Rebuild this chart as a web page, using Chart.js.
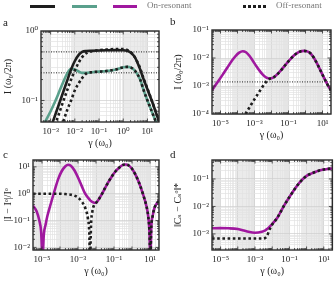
<!DOCTYPE html>
<html><head><meta charset="utf-8">
<script src="https://cdn.jsdelivr.net/npm/chart.js@4"></script>
<style>
html,body{margin:0;padding:0;background:#fff;}
#wrap{position:relative;width:336px;height:281px;overflow:hidden;font-family:"Liberation Serif","DejaVu Serif",serif;}
canvas{position:absolute;left:0;top:0;}
.pl{position:absolute;font-size:11px;color:#222;line-height:1;}
.sw{position:absolute;height:3px;top:5px;}
.lt{position:absolute;font-size:9px;color:#777;top:1px;line-height:1;}
</style></head><body>
<div id="wrap">
<canvas id="ca" width="336" height="281"></canvas>
<canvas id="cb" width="336" height="281"></canvas>
<canvas id="cc" width="336" height="281"></canvas>
<canvas id="cd" width="336" height="281"></canvas>
<div class="sw" style="left:30px;width:25px;background:#1e1e1e"></div>
<div class="sw" style="left:72px;width:25px;background:#5aa08c"></div>
<div class="sw" style="left:113px;width:24px;background:#a0189f"></div>
<div class="lt" style="left:147px">On-resonant</div>
<div class="sw" style="left:243px;width:23px;background:repeating-linear-gradient(90deg,#1e1e1e 0 3px,transparent 3px 5px)"></div>
<div class="lt" style="left:276px">Off-resonant</div>
<div class="pl" style="left:3px;top:17px">a</div>
<div class="pl" style="left:170px;top:16px">b</div>
<div class="pl" style="left:3px;top:149px">c</div>
<div class="pl" style="left:170px;top:149px">d</div>
</div>
<script>
// ---------- data ----------
const aGamma = [4e-4,6e-4,1e-3,1.5e-3,2e-3,3e-3,5e-3,7e-3,1e-2,1.5e-2,2e-2,3e-2,5e-2,0.1,0.2,0.5,1,1.5,2,3,5,7,10,15,30];
const aBlackOn  = [0.016,0.024,0.04,0.06,0.08,0.12,0.2,0.28,0.37,0.46,0.5,0.515,0.52,0.525,0.528,0.53,0.528,0.515,0.49,0.42,0.28,0.2,0.145,0.1,0.05];
const aGreenOn  = [0.038,0.05,0.07,0.095,0.12,0.17,0.25,0.285,0.28,0.26,0.25,0.25,0.255,0.26,0.265,0.28,0.3,0.305,0.3,0.27,0.2,0.14,0.1,0.07,0.038];
const aBlackOff = [0.012,0.018,0.03,0.044,0.058,0.088,0.145,0.2,0.27,0.36,0.42,0.48,0.51,0.53,0.54,0.55,0.55,0.53,0.5,0.42,0.29,0.205,0.148,0.1,0.05];
const aGreenOff = [0.006,0.009,0.015,0.022,0.03,0.045,0.075,0.1,0.14,0.18,0.21,0.245,0.255,0.26,0.265,0.28,0.3,0.305,0.3,0.27,0.2,0.14,0.1,0.07,0.038];
const aRefLevels = [0.5, 0.25];

const bGamma = [3.16e-6,6.3e-6,1.26e-5,2.5e-5,5e-5,7.9e-5,1.26e-4,2e-4,3.16e-4,5e-4,7.9e-4,1.26e-3,2e-3,3.16e-3,5e-3,7.9e-3,1.26e-2,2e-2,3.16e-2,5e-2,7.9e-2,0.126,0.2,0.316,0.5,0.79,1.26,2,3.16,5,7.9,12.6,20,31.6];
const bOn  = [7e-4,1.3e-3,2.4e-3,4.5e-3,8.5e-3,1.2e-2,1.55e-2,1.75e-2,1.6e-2,1.2e-2,8e-3,5.2e-3,3.5e-3,2.5e-3,2e-3,1.85e-3,2e-3,2.5e-3,3.3e-3,4.6e-3,6.5e-3,9e-3,1.2e-2,1.5e-2,1.72e-2,1.8e-2,1.72e-2,1.45e-2,1e-2,6e-3,3.4e-3,1.9e-3,1.1e-3,7e-4];
const bOff = [null,null,null,null,null,null,null,7e-5,1.1e-4,1.7e-4,2.7e-4,4.2e-4,6.5e-4,1e-3,1.45e-3,1.8e-3,2e-3,2.5e-3,3.3e-3,4.6e-3,6.5e-3,9e-3,1.2e-2,1.5e-2,1.72e-2,1.8e-2,1.72e-2,1.45e-2,1e-2,6e-3,3.4e-3,1.9e-3,1.1e-3,7e-4];
const bRefLevels = [1.4e-3];

const cGamma = [3.16e-6,5e-6,7.1e-6,8.9e-6,1.07e-5,1.26e-5,1.58e-5,2e-5,3.16e-5,5e-5,7.9e-5,1.26e-4,2e-4,2.8e-4,4e-4,6.3e-4,1e-3,1.58e-3,2.5e-3,3.55e-3,4.2e-3,4.7e-3,5.25e-3,6.3e-3,7.9e-3,1e-2,1.26e-2,2e-2,3.16e-2,5e-2,7.9e-2,0.126,0.2,0.316,0.447,0.63,1,1.58,2.5,4,6.3,7.9,9.3,10.5,11.7,14.1,17.8,25,31.6];
const cOn  = [0.36,0.22,0.1,0.04,0.004,0.03,0.07,0.15,0.45,1.3,3.5,7,10.5,12,11,7.5,4,2,1.0,0.72,0.63,0.57,0.53,0.49,0.46,0.46,0.55,0.9,1.6,2.8,4.6,7,9.5,11.8,12.3,11.5,8.5,5,2.5,1.0,0.35,0.15,0.04,0.003,0.05,0.15,0.3,0.45,0.55];
const cOff = [1,1,1,1,1,1,1,1,1,1,1,0.99,0.97,0.95,0.92,0.85,0.72,0.52,0.3,0.12,0.04,0.003,0.06,0.22,0.38,0.46,0.55,0.9,1.6,2.8,4.6,7,9.5,11.8,12.3,11.5,8.5,5,2.5,1.0,0.35,0.15,0.04,0.003,0.05,0.15,0.3,0.45,0.55];

const dGamma = [3.16e-6,1e-5,3.16e-5,1e-4,3.16e-4,1e-3,2.5e-3,4e-3,5e-3,6.3e-3,7.9e-3,1e-2,2e-2,3.16e-2,5e-2,0.1,0.2,0.4,1,2,3.16,5,10,15.8,31.6];
const dOn  = [1.6e-3,1.62e-3,1.6e-3,1.5e-3,1.25e-3,1.1e-3,1.2e-3,1.35e-3,1.5e-3,1.7e-3,1.95e-3,2.3e-3,3.9e-3,6.5e-3,1.1e-2,2.2e-2,4.2e-2,7.5e-2,0.13,0.16,0.18,0.2,0.22,0.232,0.24];
const dOff = [6.8e-4,6.8e-4,6.8e-4,6.8e-4,6.8e-4,6.8e-4,6.8e-4,7.2e-4,8.5e-4,1.2e-3,1.7e-3,2.2e-3,3.9e-3,6.5e-3,1.1e-2,2.2e-2,4.2e-2,7.5e-2,0.13,0.16,0.18,0.2,0.22,0.232,0.24];

// ---------- style ----------
const FONT = '"Liberation Serif","DejaVu Serif",serif';
const BLACK = '#1e1e1e', GREEN = '#5aa08c', MAGENTA = '#a0189f';
const SUP = {'-':'⁻','0':'⁰','1':'¹','2':'²','3':'³','4':'⁴','5':'⁵','6':'⁶','7':'⁷','8':'⁸','9':'⁹'};
const exp10 = v => Math.round(Math.log10(v));
const isDecade = v => Math.abs(Math.log10(v) - exp10(v)) < 1e-6;
const lbl = v => '10' + String(exp10(v)).split('').map(c => SUP[c]).join('');
const keepIntMantissa = s => {
  s.ticks = s.ticks.filter(t => {
    const m = t.value / Math.pow(10, Math.floor(Math.log10(t.value) + 1e-9));
    return Math.abs(m - Math.round(m)) < 1e-6;
  });
};
const pts = (xs, ys) => xs.map((x, i) => ({x, y: ys[i]})).filter(p => p.y !== null);

const deco = {
  id: 'deco',
  beforeDraw(chart) {
    const {ctx, chartArea: a, scales: {x}} = chart;
    ctx.save();
    ctx.fillStyle = '#fff';
    ctx.fillRect(a.left, a.top, a.width, a.height);
    ctx.fillStyle = '#ebebeb';
    const k0 = Math.floor(Math.log10(x.min)), k1 = Math.ceil(Math.log10(x.max));
    for (let k = k0; k < k1; k++) {
      if (((k % 2) + 2) % 2 !== 0) continue;
      const p0 = Math.max(a.left, x.getPixelForValue(Math.pow(10, k)));
      const p1 = Math.min(a.right, x.getPixelForValue(Math.pow(10, k + 1)));
      if (p1 > p0) ctx.fillRect(p0, a.top, p1 - p0, a.height);
    }
    ctx.restore();
  },
  afterDraw(chart) {
    const {ctx, chartArea: a, scales: {x, y}} = chart;
    ctx.save();
    ctx.strokeStyle = '#2a2a2a';
    ctx.lineWidth = 0.8;
    ctx.beginPath();
    x.ticks.forEach(t => {
      const p = x.getPixelForValue(t.value);
      if (p <= a.left + 1 || p >= a.right - 1) return;
      const L = isDecade(t.value) ? 3.5 : 2;
      ctx.moveTo(p, a.bottom); ctx.lineTo(p, a.bottom - L);
      ctx.moveTo(p, a.top); ctx.lineTo(p, a.top + L);
    });
    y.ticks.forEach(t => {
      const p = y.getPixelForValue(t.value);
      if (p <= a.top + 1 || p >= a.bottom - 1) return;
      const L = isDecade(t.value) ? 3.5 : 2;
      ctx.moveTo(a.left, p); ctx.lineTo(a.left + L, p);
      ctx.moveTo(a.right, p); ctx.lineTo(a.right - L, p);
    });
    ctx.stroke();
    ctx.lineWidth = 1.4;
    ctx.strokeRect(a.left, a.top, a.width, a.height);
    ctx.restore();
  }
};

function solid(data, color) {
  return {data, borderColor: color, borderWidth: 2.6, pointRadius: 0, cubicInterpolationMode: 'monotone', capBezierPoints: false, borderCapStyle: 'butt', order: 2};
}
function dotted(data) {
  return {data, borderColor: BLACK, borderWidth: 2.6, borderDash: [2.6, 2.6], pointRadius: 0, cubicInterpolationMode: 'monotone', capBezierPoints: false, borderCapStyle: 'butt', order: 1};
}
function refLine(xmin, xmax, level) {
  return {data: [{x: xmin, y: level}, {x: xmax, y: level}], borderColor: '#222', borderWidth: 1, borderDash: [1, 1.5], pointRadius: 0, order: 3};
}

function panel(id, o) {
  const gridCfg = {
    color: c => (c.tick && isDecade(c.tick.value)) ? '#cfcfcf' : '#e2e2e2',
    lineWidth: 0.7, drawTicks: false
  };
  new Chart(document.getElementById(id), {
    type: 'line',
    data: {datasets: o.datasets},
    options: {
      responsive: false, animation: false, events: [],
      layout: {padding: o.pad},
      elements: {line: {capBezierPoints: false}},
      plugins: {legend: {display: false}, tooltip: {enabled: false}},
      scales: {
        x: {
          type: 'logarithmic', min: o.xmin, max: o.xmax,
          afterBuildTicks: keepIntMantissa,
          afterFit: s => { s.height = o.hx; },
          grid: gridCfg, border: {display: false},
          ticks: {autoSkip: false, maxRotation: 0, minRotation: 0, padding: 4, color: '#222',
            font: {family: FONT, size: 9},
            callback: v => (isDecade(v) && o.xShow(exp10(v))) ? lbl(v) : ''},
          title: {display: true, text: 'γ (ω₀)', color: '#222', font: {family: FONT, size: 10}, padding: 0}
        },
        y: {
          type: 'logarithmic', min: o.ymin, max: o.ymax,
          afterBuildTicks: keepIntMantissa,
          afterFit: s => { s.width = o.wy; },
          grid: gridCfg, border: {display: false},
          ticks: {autoSkip: false, padding: 3, color: '#222', font: {family: FONT, size: 9},
            callback: v => isDecade(v) ? lbl(v) : ''},
          title: {display: true, text: o.ytitle, color: '#222', font: {family: FONT, size: 10}, padding: 0}
        }
      }
    },
    plugins: [deco]
  });
}

const odd = e => Math.abs(e % 2) === 1;

panel('ca', {
  xmin: 4e-4, xmax: 30, ymin: 0.049, ymax: 1,
  pad: {left: 2, right: 177, top: 31, bottom: 132}, wy: 39, hx: 27,
  xShow: () => true, ytitle: 'I (ω₀/2π)',
  datasets: [
    dotted(pts(aGamma, aBlackOff)), dotted(pts(aGamma, aGreenOff)),
    solid(pts(aGamma, aBlackOn), BLACK), solid(pts(aGamma, aGreenOn), GREEN),
    ...aRefLevels.map(l => refLine(4e-4, 30, l))
  ]
});
panel('cb', {
  xmin: 3.16e-6, xmax: 31.6, ymin: 1e-4, ymax: 0.1,
  pad: {left: 172, right: 5, top: 30, bottom: 140}, wy: 40, hx: 27,
  xShow: odd, ytitle: 'I (ω₀/2π)',
  datasets: [
    dotted(pts(bGamma, bOff)), solid(pts(bGamma, bOn), MAGENTA),
    ...bRefLevels.map(l => refLine(3.16e-6, 31.6, l))
  ]
});
panel('cc', {
  xmin: 3.16e-6, xmax: 31.6, ymin: 0.008, ymax: 18,
  pad: {left: 2, right: 177, top: 160, bottom: 4}, wy: 31, hx: 27,
  xShow: odd, ytitle: '|I − Iᵒ|/Iᵒ',
  datasets: [dotted(pts(cGamma, cOff)), solid(pts(cGamma, cOn), MAGENTA)]
});
panel('cd', {
  xmin: 3.16e-6, xmax: 31.6, ymin: 2.6e-4, ymax: 0.49,
  pad: {left: 172, right: 3, top: 160, bottom: 4}, wy: 40, hx: 27,
  xShow: odd, ytitle: '‖Cₛ − Cₛᵒ‖*',
  datasets: [dotted(pts(dGamma, dOff)), solid(pts(dGamma, dOn), MAGENTA)]
});
</script>
</body></html>
